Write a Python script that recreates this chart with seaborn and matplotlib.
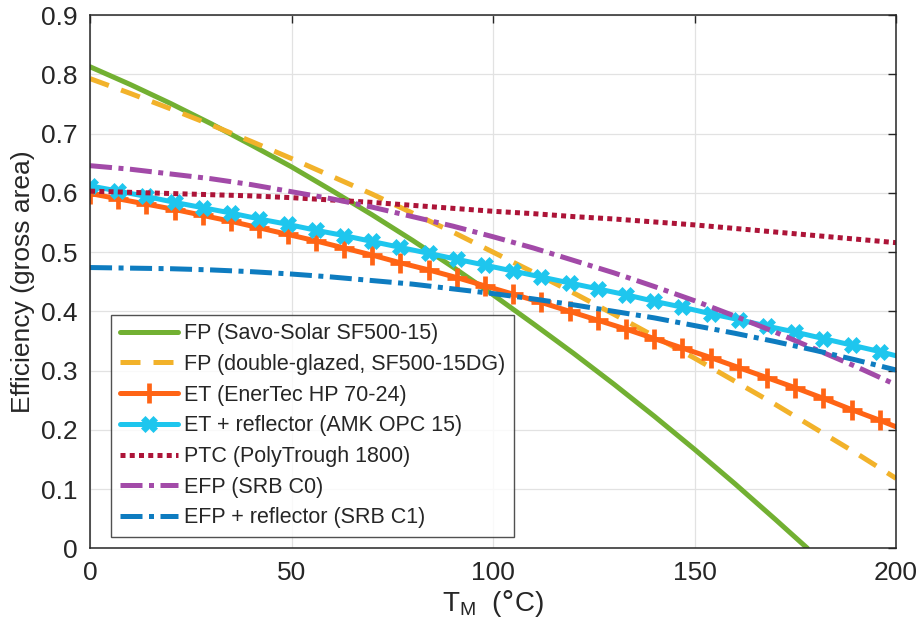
import numpy as np
import pandas as pd
import seaborn as sns
import matplotlib.pyplot as plt
from matplotlib.ticker import FormatStrFormatter

# Temperature grids (°C)
t_10 = [0, 10, 20, 30, 40, 50, 60, 70, 80, 90, 100,
        110, 120, 130, 140, 150, 160, 170, 180, 190, 200]
t_fp = [0, 10, 20, 30, 40, 50, 60, 70, 80, 90, 100,
        110, 120, 130, 140, 150, 160, 170, 178]
t_7 = [0, 7, 14, 21, 28, 35, 42, 49, 56, 63, 70, 77, 84, 91, 98, 105,
       112, 119, 126, 133, 140, 147, 154, 161, 168, 175, 182, 189, 196, 200]

# Efficiency (gross area)
fp_savo = [0.813, 0.783, 0.751, 0.717, 0.681, 0.644, 0.604, 0.563, 0.520, 0.475,
           0.428, 0.379, 0.329, 0.277, 0.223, 0.167, 0.109, 0.049, 0.0]
fp_dg = [0.793, 0.768, 0.742, 0.715, 0.687, 0.658, 0.628, 0.598, 0.566, 0.534,
         0.500, 0.466, 0.431, 0.395, 0.358, 0.321, 0.282, 0.243, 0.202, 0.161, 0.118]
et = [0.599, 0.590, 0.581, 0.572, 0.562, 0.552, 0.541, 0.530, 0.519, 0.507,
      0.495, 0.482, 0.470, 0.457, 0.443, 0.429, 0.415, 0.400, 0.385, 0.370,
      0.354, 0.338, 0.322, 0.305, 0.288, 0.271, 0.253, 0.234, 0.216, 0.205]
et_refl = [0.612, 0.603, 0.594, 0.584, 0.575, 0.566, 0.556, 0.547, 0.537, 0.528,
           0.518, 0.508, 0.498, 0.488, 0.478, 0.468, 0.458, 0.448, 0.438, 0.428,
           0.417, 0.407, 0.396, 0.386, 0.375, 0.365, 0.354, 0.343, 0.332, 0.325]
ptc = [0.603, 0.601, 0.599, 0.597, 0.595, 0.592, 0.588, 0.584, 0.579, 0.574,
       0.569, 0.565, 0.560, 0.556, 0.551, 0.546, 0.540, 0.534, 0.528, 0.522, 0.516]
efp = [0.646, 0.640, 0.632, 0.624, 0.614, 0.602, 0.590, 0.576, 0.560, 0.544,
       0.526, 0.507, 0.486, 0.465, 0.442, 0.418, 0.392, 0.365, 0.336, 0.307, 0.276]
efp_refl = [0.474, 0.473, 0.472, 0.470, 0.467, 0.463, 0.458, 0.452, 0.446, 0.438,
            0.430, 0.421, 0.411, 0.400, 0.389, 0.376, 0.363, 0.349, 0.334, 0.318, 0.301]

labels = ['FP (Savo-Solar SF500-15)', 'FP (double-glazed, SF500-15DG)',
          'ET (EnerTec HP 70-24)', 'ET + reflector (AMK OPC 15)',
          'PTC (PolyTrough 1800)', 'EFP (SRB C0)', 'EFP + reflector (SRB C1)']
colors = ['#72B032', '#F2B22A', '#FF6415', '#1EC6EE', '#AD1438', '#A24AA8', '#0E7CC0']

sns.set_style('white')
plt.rcParams['font.family'] = ['Liberation Sans', 'DejaVu Sans']

fig = plt.figure(figsize=(9.19, 6.36), dpi=100)
ax = fig.add_axes([0.098, 0.138, 0.877, 0.838])

lw = 3.6
dashdot = (0, (4.4, 1.3, 1.0, 1.3))
sns.lineplot(x=t_fp, y=fp_savo, ax=ax, color=colors[0], lw=lw, linestyle='-',
             label=labels[0])
sns.lineplot(x=t_10, y=fp_dg, ax=ax, color=colors[1], lw=lw,
             linestyle=(0, (4.0, 2.6)), label=labels[1])
sns.lineplot(x=t_7, y=et, ax=ax, color=colors[2], lw=lw, linestyle='-',
             marker='+', markersize=14, markeredgewidth=3.4,
             markeredgecolor=colors[2], markevery=list(range(29)), label=labels[2])
sns.lineplot(x=t_7, y=et_refl, ax=ax, color=colors[3], lw=lw, linestyle='-',
             marker='X', markersize=12, markeredgewidth=0.5,
             markeredgecolor=colors[3], markerfacecolor=colors[3],
             markevery=list(range(29)), label=labels[3])
sns.lineplot(x=t_10, y=ptc, ax=ax, color=colors[4], lw=lw,
             linestyle=(0, (1, 0.85)), label=labels[4])
sns.lineplot(x=t_10, y=efp, ax=ax, color=colors[5], lw=lw,
             linestyle=dashdot, label=labels[5])
sns.lineplot(x=t_10, y=efp_refl, ax=ax, color=colors[6], lw=lw,
             linestyle=dashdot, label=labels[6])

ax.set_xlim(0, 200)
ax.set_ylim(0, 0.9)
ax.set_xticks([0, 50, 100, 150, 200])
ax.set_yticks(np.arange(0, 0.91, 0.1))
ax.yaxis.set_major_formatter(FormatStrFormatter('%g'))
ax.grid(True, color='#E2E2E2', lw=0.9)
ax.set_axisbelow(True)
ax.tick_params(direction='in', top=True, right=True, length=6, width=1,
               labelsize=19, colors='#262626', pad=9)
for s in ax.spines.values():
    s.set_color('#262626')
    s.set_linewidth(1.1)

ax.set_xlabel(r'T$_\mathregular{M}$  ($\degree$C)', fontsize=20, color='#262626', labelpad=2)
ax.set_ylabel('Efficiency (gross area)', fontsize=19, color='#262626', labelpad=4)

leg = ax.legend(loc='lower left', bbox_to_anchor=(0.026, 0.021), borderaxespad=0,
                fontsize=15.5, frameon=True, fancybox=False, handlelength=2.7,
                labelspacing=0.45, borderpad=0.4, handletextpad=0.3)
leg.get_frame().set_edgecolor('#262626')
leg.get_frame().set_linewidth(1.0)

fig.savefig('out.png', dpi=100)
